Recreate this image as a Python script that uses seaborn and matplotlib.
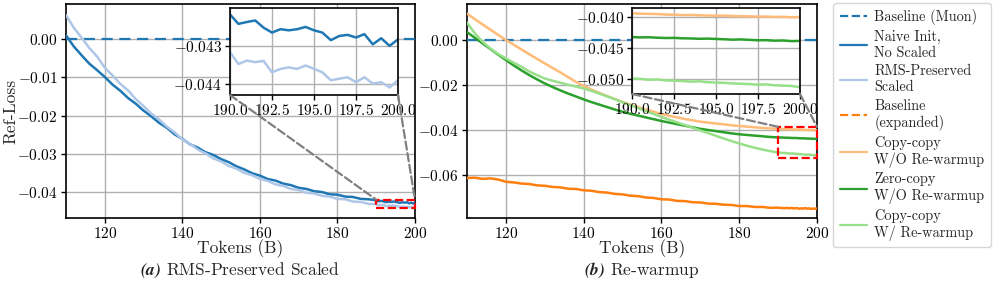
import numpy as np
import pandas as pd
import matplotlib
matplotlib.use("Agg")
import matplotlib.pyplot as plt
import seaborn as sns
from matplotlib.lines import Line2D
from matplotlib.patches import Rectangle, ConnectionPatch

# token grid: every 2B up to 188, then every 0.5B in the zoomed tail
tokens = np.r_[np.arange(110, 190, 2), np.arange(190, 200.01, 0.5)]

# (a) RMS-Preserved Scaled
naive_init = [
    0.0010, -0.0019, -0.0042, -0.0064, -0.0081, -0.0099, -0.0119, -0.0135, -0.0154, -0.0169,
    -0.0187, -0.0202, -0.0219, -0.0232, -0.0249, -0.0261, -0.0275, -0.0284, -0.0296, -0.0303,
    -0.0314, -0.0322, -0.0333, -0.0341, -0.0351, -0.0357, -0.0366, -0.0370, -0.0378, -0.0382,
    -0.0389, -0.0392, -0.0398, -0.0400, -0.0406, -0.0407, -0.0412, -0.0413, -0.0418, -0.0419,
    -0.04217, -0.04242, -0.04237, -0.04233, -0.04252, -0.04265, -0.04256, -0.04259, -0.04256, -0.04250,
    -0.04259, -0.04265, -0.04285, -0.04274, -0.04271, -0.04278, -0.04269, -0.04296, -0.04280, -0.04300,
    -0.04283,
]
rms_preserved = [
    0.0063, 0.0030, 0.0004, -0.0023, -0.0045, -0.0075, -0.0095, -0.0117, -0.0134, -0.0157,
    -0.0175, -0.0195, -0.0210, -0.0229, -0.0244, -0.0262, -0.0274, -0.0289, -0.0299, -0.0312,
    -0.0320, -0.0332, -0.0339, -0.0350, -0.0356, -0.0366, -0.0371, -0.0380, -0.0384, -0.0392,
    -0.0395, -0.0402, -0.0404, -0.0410, -0.0412, -0.0418, -0.0419, -0.0425, -0.0426, -0.0431,
    -0.04317, -0.04348, -0.04339, -0.04343, -0.04340, -0.04370, -0.04361, -0.04357, -0.04361, -0.04352,
    -0.04361, -0.04370, -0.04391, -0.04387, -0.04383, -0.04396, -0.04383, -0.04400, -0.04396, -0.04410,
    -0.04391,
]

# (b) Re-warmup
baseline_expanded = [
    -0.0613, -0.0612, -0.0617, -0.0615, -0.0620, -0.0630, -0.0633, -0.0638, -0.0640, -0.0646,
    -0.0648, -0.0653, -0.0655, -0.0661, -0.0662, -0.0668, -0.0670, -0.0676, -0.0678, -0.0684,
    -0.0686, -0.0692, -0.0694, -0.0700, -0.0702, -0.0708, -0.0709, -0.0715, -0.0716, -0.0721,
    -0.0722, -0.0727, -0.0728, -0.0732, -0.0733, -0.0738, -0.0738, -0.0742, -0.0742, -0.0746,
    -0.0745, -0.0747, -0.0746, -0.0748, -0.0746, -0.0747, -0.0748, -0.0746, -0.0749, -0.0747,
    -0.0748, -0.0750, -0.0748, -0.0749, -0.0747, -0.0750, -0.0748, -0.0751, -0.0749, -0.0750,
    -0.0749,
]
copy_wo_rewarmup = [
    0.0117, 0.0093, 0.0069, 0.0046, 0.0023, 0.0000, -0.0021, -0.0042, -0.0063, -0.0084,
    -0.0104, -0.0124, -0.0144, -0.0165, -0.0186, -0.0204, -0.0220, -0.0235, -0.0249, -0.0262,
    -0.0275, -0.0287, -0.0298, -0.0309, -0.0319, -0.0329, -0.0337, -0.0344, -0.0351, -0.0357,
    -0.0363, -0.0367, -0.0371, -0.0375, -0.0379, -0.0382, -0.0385, -0.0388, -0.0391, -0.0393,
    -0.03946, -0.03952, -0.03955, -0.03958, -0.03965, -0.03968, -0.03975, -0.03972, -0.03978, -0.03982,
    -0.03985, -0.03983, -0.03990, -0.03992, -0.03995, -0.04000, -0.03998, -0.04004, -0.04003, -0.04010,
    -0.04005,
]
zero_wo_rewarmup = [
    0.0035, 0.0010, -0.0015, -0.0040, -0.0065, -0.0089, -0.0113, -0.0135, -0.0156, -0.0175,
    -0.0193, -0.0209, -0.0224, -0.0238, -0.0251, -0.0264, -0.0276, -0.0287, -0.0298, -0.0309,
    -0.0319, -0.0328, -0.0336, -0.0344, -0.0352, -0.0360, -0.0367, -0.0374, -0.0381, -0.0388,
    -0.0395, -0.0400, -0.0405, -0.0410, -0.0415, -0.0419, -0.0422, -0.0425, -0.0428, -0.0431,
    -0.04330, -0.04335, -0.04333, -0.04340, -0.04345, -0.04343, -0.04350, -0.04352, -0.04358, -0.04355,
    -0.04360, -0.04366, -0.04372, -0.04368, -0.04375, -0.04382, -0.04380, -0.04388, -0.04385, -0.04395,
    -0.04392,
]
copy_w_rewarmup = [
    0.0077, 0.0030, -0.0008, -0.0038, -0.0062, -0.0082, -0.0101, -0.0119, -0.0140, -0.0156,
    -0.0171, -0.0181, -0.0190, -0.0199, -0.0207, -0.0215, -0.0226, -0.0238, -0.0251, -0.0263,
    -0.0277, -0.0290, -0.0303, -0.0316, -0.0329, -0.0342, -0.0354, -0.0366, -0.0378, -0.0390,
    -0.0402, -0.0414, -0.0426, -0.0438, -0.0449, -0.0460, -0.0470, -0.0479, -0.0487, -0.0494,
    -0.05000, -0.05005, -0.05020, -0.05015, -0.05030, -0.05035, -0.05040, -0.05050, -0.05045, -0.05060,
    -0.05065, -0.05070, -0.05080, -0.05085, -0.05090, -0.05100, -0.05095, -0.05110, -0.05115, -0.05120,
    -0.05140,
]

colors = {
    "Baseline (Muon)": "#1f77b4",
    "Naive Init,\nNo Scaled": "#1f77b4",
    "RMS-Preserved\nScaled": "#aec7e8",
    "Baseline\n(expanded)": "#ff7f0e",
    "Copy-copy\nW/O Re-warmup": "#ffbb78",
    "Zero-copy\nW/O Re-warmup": "#2ca02c",
    "Copy-copy\nW/ Re-warmup": "#98df8a",
}


def long_df(series):
    parts = [pd.DataFrame({"tokens": tokens, "loss": vals, "run": name}) for name, vals in series.items()]
    return pd.concat(parts, ignore_index=True)


df_a = long_df({"Naive Init,\nNo Scaled": naive_init, "RMS-Preserved\nScaled": rms_preserved})
df_b = long_df({
    "Baseline\n(expanded)": baseline_expanded,
    "Copy-copy\nW/O Re-warmup": copy_wo_rewarmup,
    "Zero-copy\nW/O Re-warmup": zero_wo_rewarmup,
    "Copy-copy\nW/ Re-warmup": copy_w_rewarmup,
})

sns.set_theme(style="ticks")
plt.rcParams.update({
    "font.family": "serif",
    "font.serif": ["cmr10", "DejaVu Serif"],
    "mathtext.fontset": "cm",
    "axes.formatter.use_mathtext": True,
    "axes.edgecolor": "black",
    "axes.linewidth": 1.2,
    "xtick.color": "black",
    "ytick.color": "black",
    "xtick.labelsize": 11,
    "ytick.labelsize": 11,
    "xtick.major.size": 3.5,
    "ytick.major.size": 3.5,
    "xtick.major.width": 1.0,
    "ytick.major.width": 1.0,
    "xtick.major.pad": 2.5,
    "ytick.major.pad": 2.5,
})

fig = plt.figure(figsize=(9.97, 2.91), dpi=100)
ax_a = fig.add_axes([0.0662, 0.2509, 0.3500, 0.7354])
ax_b = fig.add_axes([0.4684, 0.2509, 0.3511, 0.7354])
in_a = fig.add_axes([0.2307, 0.6735, 0.1685, 0.2990])
in_b = fig.add_axes([0.6339, 0.6770, 0.1685, 0.2955])


def draw_panel(ax, df, ylim, yticks):
    ax.grid(True, color="#b0b0b0", lw=1.0)
    ax.axhline(0, ls="--", color="#1f77b4", lw=1.6, dashes=(5, 3), zorder=3)
    sns.lineplot(data=df, x="tokens", y="loss", hue="run", palette=colors, ax=ax,
                 legend=False, linewidth=1.8, estimator=None, sort=False, zorder=4)
    ax.set_xlim(110, 200)
    ax.set_ylim(*ylim)
    ax.set_xticks([120, 140, 160, 180, 200])
    ax.set_yticks(yticks)
    ax.set_xlabel("Tokens (B)", fontsize=12.5)
    ax.xaxis.set_label_coords(0.5, -0.1)
    ax.set_ylabel("")


def draw_inset(ax, inset, df, ylim, yticks):
    tail = df[df["tokens"] >= 190]
    inset.grid(True, color="#b0b0b0", lw=1.0)
    sns.lineplot(data=tail, x="tokens", y="loss", hue="run", palette=colors, ax=inset,
                 legend=False, linewidth=1.8, estimator=None, sort=False)
    inset.set_xlim(190, 200)
    inset.set_ylim(*ylim)
    inset.set_xticks([190, 192.5, 195, 197.5, 200])
    inset.set_yticks(yticks)
    inset.set_xlabel("")
    inset.set_ylabel("")
    for s in inset.spines.values():
        s.set_linewidth(1.2)
    # zoom box + connectors
    ax.add_patch(Rectangle((190, ylim[0]), 10, ylim[1] - ylim[0], fill=False,
                           edgecolor="red", ls="--", lw=1.6, zorder=6, clip_on=False))
    for xf, xd in [(0, 190), (1, 200)]:
        con = ConnectionPatch(xyA=(xf, 0), coordsA=inset.transAxes, xyB=(xd, ylim[1]),
                              coordsB=ax.transData, color="gray", ls="--", lw=1.6, zorder=5)
        fig.add_artist(con)


draw_panel(ax_a, df_a, (-0.0468, 0.0092), [-0.04, -0.03, -0.02, -0.01, 0.0])
draw_panel(ax_b, df_b, (-0.0791, 0.016), [-0.06, -0.04, -0.02, 0.0])
ax_a.set_ylabel("Ref-Loss", fontsize=12.5)
ax_a.yaxis.set_label_coords(-0.135, 0.5)
draw_inset(ax_a, in_a, df_a, (-0.0443, -0.0420), [-0.044, -0.043])
draw_inset(ax_b, in_b, df_b, (-0.0525, -0.0386), [-0.050, -0.045, -0.040])

fig.text(0.241, 0.07, r"$\mathbfit{(a)}$ RMS-Preserved Scaled", ha="center", va="center", fontsize=12.5)
fig.text(0.644, 0.07, r"$\mathbfit{(b)}$ Re-warmup", ha="center", va="center", fontsize=12.5)

handles = [Line2D([], [], color=colors["Baseline (Muon)"], ls="--", lw=1.6)]
labels = ["Baseline (Muon)"]
for name in list(colors)[1:]:
    ls = "--" if name.startswith("Baseline") else "-"
    handles.append(Line2D([], [], color=colors[name], ls=ls, lw=1.6))
    labels.append(name)
fig.legend(handles, labels, loc="upper left", bbox_to_anchor=(0.836, 0.99), fontsize=10.3,
           frameon=True, fancybox=True, edgecolor="#cccccc", handlelength=1.9,
           labelspacing=0.33, borderpad=0.45, handletextpad=0.5, borderaxespad=0.0)

fig.savefig("out.png", dpi=100)
